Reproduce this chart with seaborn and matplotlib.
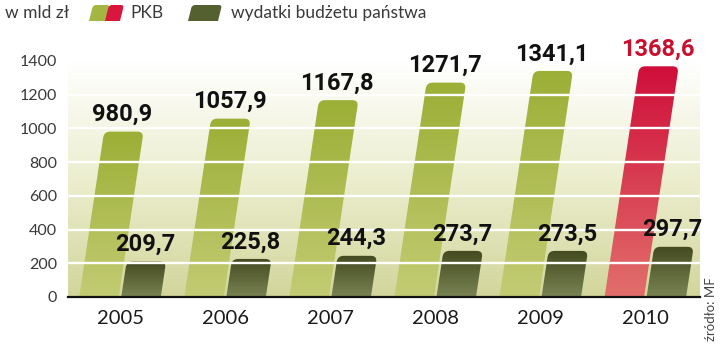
import numpy as np
import pandas as pd
import matplotlib
matplotlib.use("Agg")
import matplotlib.pyplot as plt
import seaborn as sns
from matplotlib.path import Path
from matplotlib.patches import PathPatch
from matplotlib.colors import LinearSegmentedColormap
from matplotlib.transforms import IdentityTransform

# ---------------- data ----------------
years = ["2005", "2006", "2007", "2008", "2009", "2010"]
pkb = [980.9, 1057.9, 1167.8, 1271.7, 1341.1, 1368.6]
wydatki = [209.7, 225.8, 244.3, 273.7, 273.5, 297.7]
pkb_labels = ["980,9", "1057,9", "1167,8", "1271,7", "1341,1", "1368,6"]
wydatki_labels = ["209,7", "225,8", "244,3", "273,7", "273,5", "297,7"]
series = ["PKB", "wydatki budżetu państwa"]
yticks = [0, 200, 400, 600, 800, 1000, 1200, 1400]
unit_label = "w mld zł"
source_label = "źródło: MF"

df = pd.DataFrame({
    "rok": years + years,
    "seria": [series[0]] * len(years) + [series[1]] * len(years),
    "wartosc": pkb + wydatki,
})

# ---------------- style ----------------
sns.set_theme(style="white")
plt.rcParams["font.family"] = ["Lato", "DejaVu Sans"]

GREEN_TOP, GREEN_BOT = "#9caf36", "#c3cc74"
DARK_TOP, DARK_BOT = "#434a20", "#7e8856"
RED_TOP, RED_BOT = "#cf0e3a", "#e2706c"
BG_TOP, BG_BOT = "#ffffff", "#d2d69b"
TXT = "#3a3a3a"

W, H = 720, 344
fig = plt.figure(figsize=(W / 100, H / 100), dpi=100)
fig.patch.set_facecolor("white")
ax = fig.add_axes([68 / W, 47 / H, 632 / W, 236 / H])

sns.barplot(data=df, x="rok", y="wartosc", hue="seria",
            palette=[GREEN_TOP, DARK_TOP], saturation=1,
            width=0.8, gap=0.06, legend=False, ax=ax)
bars = list(ax.patches)

XL = (-0.495, 5.52)
ax.set_xlim(*XL)
ax.set_ylim(0, 1400)
ax.set_facecolor("none")
for sp in ["top", "right", "left"]:
    ax.spines[sp].set_visible(False)
ax.spines["bottom"].set_color("#111111")
ax.spines["bottom"].set_linewidth(1.6)
ax.spines["bottom"].set_zorder(6)
ax.set_xlabel("")
ax.set_ylabel("")
ax.set_yticks(yticks)
ax.set_yticklabels([str(v) for v in yticks], fontsize=11.5, color=TXT)
ax.tick_params(axis="y", length=0, pad=8)
ax.tick_params(axis="x", length=0, pad=9, labelsize=14.5, colors="#1a1a1a")
ax.grid(False)

# background gradient
grad = np.linspace(0, 1, 256).reshape(-1, 1)
bg_cmap = LinearSegmentedColormap.from_list("bg", [BG_BOT, "#eceecf", BG_TOP])
ax.imshow(grad, cmap=bg_cmap, extent=[XL[0], XL[1], 0, 1400], origin="lower",
          aspect="auto", zorder=0, interpolation="bicubic")

# white grid lines on top of bars
for yv in yticks[1:-1]:
    ax.axhline(yv, color="white", lw=1.7, zorder=4)

SLOPE = 0.15
RAD = 6.0
EXT = 8.0
inv = ax.transData.inverted()


def slanted_patch(p):
    x0, w, h = p.get_x(), p.get_width(), p.get_height()
    X0, Y0 = ax.transData.transform((x0, 0))
    X1, Y1 = ax.transData.transform((x0 + w, h))
    s = SLOPE * (Y1 - Y0)
    verts = [
        (X0 - SLOPE * EXT, Y0 - EXT),
        (X1 - SLOPE * EXT, Y0 - EXT),
        (X1 + s - SLOPE * RAD, Y1 - RAD),
        (X1 + s, Y1),
        (X1 + s - RAD, Y1),
        (X0 + s + RAD, Y1),
        (X0 + s, Y1),
        (X0 + s - SLOPE * RAD, Y1 - RAD),
        (X0 - SLOPE * EXT, Y0 - EXT),
    ]
    codes = [Path.MOVETO, Path.LINETO, Path.LINETO, Path.CURVE3, Path.CURVE3,
             Path.LINETO, Path.CURVE3, Path.CURVE3, Path.CLOSEPOLY]
    dv = inv.transform(verts)
    patch = PathPatch(Path(dv, codes), facecolor="none", edgecolor="none", zorder=2)
    ax.add_patch(patch)
    top_center = inv.transform(((X0 + X1) / 2 + s, Y1))
    xmin = inv.transform((X0 - SLOPE * EXT - 2, Y0))[0]
    xmax = inv.transform((X1 + s + 2, Y0))[0]
    return patch, top_center, xmin, xmax


n = len(years)
for i, p in enumerate(bars):
    p.set_visible(False)
    si, j = divmod(i, n)
    if si == 0:
        if j == n - 1:
            cols, lc = (RED_BOT, RED_TOP), "#c8102e"
        else:
            cols, lc = (GREEN_BOT, GREEN_TOP), "#111111"
        lab = pkb_labels[j]
    else:
        cols, lc = (DARK_BOT, DARK_TOP), "#111111"
        lab = wydatki_labels[j]
    patch, tc, xmin, xmax = slanted_patch(p)
    cmap = LinearSegmentedColormap.from_list("b%d" % i, list(cols))
    im = ax.imshow(grad, cmap=cmap, extent=[xmin, xmax, -20, p.get_height()],
                   origin="lower", aspect="auto", zorder=2, interpolation="bicubic")
    im.set_clip_path(patch)
    ax.annotate(lab, xy=tc, xytext=(-1, 4), textcoords="offset points",
                ha="center", va="bottom", fontsize=17, fontweight="bold",
                color=lc, zorder=7, family=["Roboto", "DejaVu Sans"])

ax.set_xlim(*XL)
ax.set_ylim(0, 1400)

# ---------------- legend (figure pixel space) ----------------
def swatch(xl, xr, yt, yb, color):
    Yt, Yb = H - yt, H - yb
    sh = 0.25 * (Yt - Yb)
    r = 3.0
    verts = [(xl, Yb), (xr, Yb), (xr + sh - 0.25 * r, Yt - r), (xr + sh, Yt),
             (xr + sh - r, Yt), (xl + sh + r, Yt), (xl + sh, Yt),
             (xl + sh - 0.25 * r, Yt - r), (xl, Yb)]
    codes = [Path.MOVETO, Path.LINETO, Path.LINETO, Path.CURVE3, Path.CURVE3,
             Path.LINETO, Path.CURVE3, Path.CURVE3, Path.CLOSEPOLY]
    fig.add_artist(PathPatch(Path(verts, codes), facecolor=color,
                             edgecolor="none", transform=IdentityTransform()))

swatch(89, 106, 5, 21, "#a5b542")
swatch(105, 120, 5, 21, "#d8163e")
swatch(188, 218, 5, 21, "#556030")

ty = 1 - 13 / H
for xpx, txt in [(5, unit_label), (130, series[0]), (231, series[1])]:
    fig.text(xpx / W, ty, txt, fontsize=12.5, color=TXT, va="center", ha="left")

fig.text(711 / W, 3 / H, source_label, rotation=90, fontsize=9.5, color="#444444",
         ha="center", va="bottom")

fig.savefig("out.png", dpi=100, facecolor="white")
